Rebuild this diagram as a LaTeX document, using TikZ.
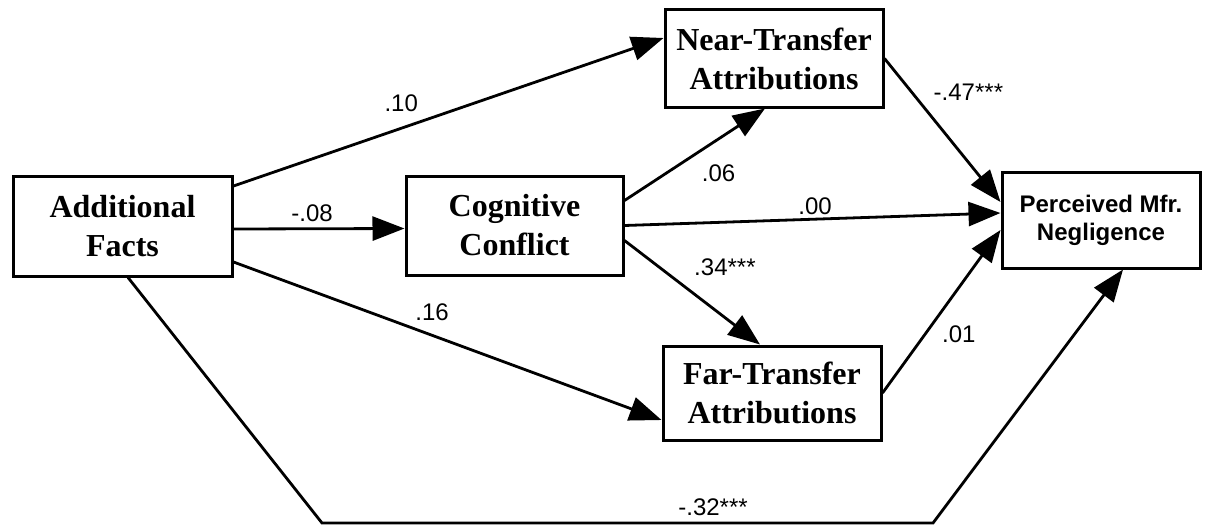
\documentclass[tikz,border=0pt]{standalone}
\usepackage{fontspec}
\setmainfont{Liberation Serif}
\setsansfont{Liberation Sans}
\usetikzlibrary{arrows.meta}

\begin{document}
\begin{tikzpicture}[->,>={Triangle[length=32pt,width=24pt]},x=1pt,y=-1pt,
  line width=2.8pt,
  var node/.style={draw,line width=3pt,inner sep=0pt,align=center,
    font=\bfseries\fontsize{32}{39}\selectfont},
  out node/.style={draw,line width=3pt,inner sep=0pt,align=center,
    font=\sffamily\bfseries\fontsize{24}{28}\selectfont},
  coef/.style={font=\sffamily\fontsize{24}{26}\selectfont,inner sep=0pt}]

  \useasboundingbox (0, 0) rectangle (1214, 527);

  \node[var node, minimum width=219pt, minimum height=100pt] (af) at (122.5, 226)
    {Additional\\Facts};
  \node[var node, minimum width=217pt, minimum height=99pt] (cc) at (514.5, 225.5)
    {Cognitive\\Conflict};
  \node[var node, minimum width=218pt, minimum height=97pt] (near) at (774, 58.5)
    {Near-Transfer\\Attributions};
  \node[var node, minimum width=218pt, minimum height=94pt] (far) at (772, 393)
    {Far-Transfer\\Attributions};
  \node[out node, minimum width=198pt, minimum height=96pt] (perc) at (1101, 220)
    {Perceived Mfr.\\Negligence};

  \coordinate (bl) at (322, 523);
  \coordinate (br) at (933, 523);

  \path[->]
    ([yshift=40pt]af.east) edge node[coef, pos=.39, yshift=25pt] {.10} ([yshift=20.5pt]near.west)
    ([yshift=-3pt]af.east) edge node[coef, pos=.46, yshift=16pt] {-.08} ([yshift=-3pt]cc.west)
    ([yshift=-36pt]af.east) edge node[coef, pos=.464, yshift=23pt] {.16} ([yshift=-27pt]far.west)
    ([yshift=25pt]cc.east) edge node[coef, pos=.67, yshift=-34pt] {.06} ([xshift=-9pt]near.south)
    (cc.east) edge node[coef, pos=.507, yshift=13pt] {.00} ([yshift=7pt]perc.west)
    ([yshift=-15pt]cc.east) edge node[coef, pos=.35, xshift=53pt, yshift=9.5pt] {.34***} ([xshift=-12pt]far.north)
    (near.east) edge node[coef, pos=.232, xshift=57pt] {-.47***} ([yshift=18pt]perc.west)
    (far.east) edge node[coef, pos=.358, xshift=34pt] {.01} ([yshift=-10pt]perc.west);

  \draw[->] ([xshift=5.5pt]af.south) -- (bl)
    -- node[coef, pos=.64, yshift=16pt] {-.32***} (br) -- ([xshift=22pt]perc.south);

\end{tikzpicture}
\end{document}
